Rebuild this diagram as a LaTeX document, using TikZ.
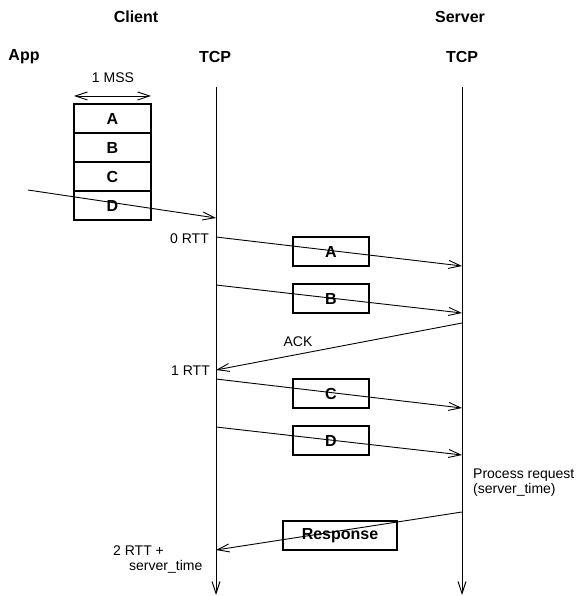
\documentclass[tikz,border=0pt]{standalone}
\usepackage{fontspec}
\setmainfont{Liberation Sans}
\usetikzlibrary{arrows.meta}
\begin{document}
\begin{tikzpicture}[x=1pt,y=-1pt,
  lbl/.style={font=\fontsize{14}{15}\selectfont, inner sep=0pt},
  hdr/.style={font=\fontsize{16}{18}\selectfont\bfseries, inner sep=0pt},
  seg/.style={draw, line width=2pt, minimum width=77pt, minimum height=29pt,
    inner sep=0pt, font=\fontsize{16}{17}\selectfont\bfseries},
  pkt/.style={draw, line width=2pt, minimum width=76pt, minimum height=29pt,
    inner sep=0pt, font=\fontsize{16}{17}\selectfont\bfseries},
  barb/.tip={Straight Barb[length=12pt,width=8pt]},
  msg/.style={line width=0.9pt, -barb},
  life/.style={line width=1pt, -barb}
]
\useasboundingbox (0,0) rectangle (576,596);

% headings
\node[hdr] (client) at (136,17) {Client};
\node[hdr] (server) at (460,17) {Server};
\node[hdr] (app) at (24,57) {App};
\node[hdr] (ctcp) at (215,57) {TCP};
\node[hdr] (stcp) at (462,57) {TCP};

% lifelines
\coordinate (ctop) at (216,87);
\coordinate (cbot) at (216,595);
\coordinate (stop) at (462,87);
\coordinate (sbot) at (462,595);
\draw[life] (ctop) -- (cbot);
\draw[life] (stop) -- (sbot);

% application buffer of four segments
\node[lbl] (mss) at (113,78) {1 MSS};
\coordinate (mssl) at (74,96);
\coordinate (mssr) at (151,96);
\draw[line width=0.9pt, barb-barb] (mssl) -- (mssr);
\node[seg] (sa) at (112.5,118.5) {A};
\node[seg] (sb) at (112.5,147.5) {B};
\node[seg] (sc) at (112.5,176.5) {C};
\node[seg] (sd) at (112.5,205.5) {D};

% write from the application into client TCP
\coordinate (w0) at (28,190);
\coordinate (w1) at (216,218);
\draw[msg] (w0) -- (w1);

% segments in flight
\node[pkt] (pa) at (331,251.5) {A};
\node[pkt] (pb) at (331,298.5) {B};
\node[pkt] (pc) at (331,393.5) {C};
\node[pkt] (pd) at (331,440.5) {D};
\node[draw, line width=2.5pt, minimum width=114pt, minimum height=29pt, inner sep=0pt,
  font=\fontsize{16}{18}\selectfont\bfseries] (resp) at (340,535.5) {Response};

\coordinate (a0) at (216,237);  \coordinate (a1) at (462,266);
\coordinate (b0) at (216,285);  \coordinate (b1) at (462,313);
\coordinate (k0) at (462,323);  \coordinate (k1) at (216,370);
\coordinate (c0) at (216,379);  \coordinate (c1) at (462,408);
\coordinate (d0) at (216,427);  \coordinate (d1) at (462,455);
\coordinate (r0) at (462,512);  \coordinate (r1) at (216,550);

\draw[msg] (a0) -- (a1);
\draw[msg] (b0) -- (b1);
\draw[msg] (k0) -- (k1);
\draw[msg] (c0) -- (c1);
\draw[msg] (d0) -- (d1);
\draw[msg] (r0) -- (r1);

% time marks and annotations
\node[lbl, anchor=east] (t0) at (209,239) {0 RTT};
\node[lbl, anchor=east] (t1) at (210,371) {1 RTT};
\node[lbl, anchor=west] (t2) at (113,551) {2 RTT +};
\node[lbl, anchor=west] (t2b) at (129,567) {server\_time};
\node[lbl] (ack) at (298,342) {ACK};
\node[lbl, anchor=north west, align=left] (proc) at (473,469)
  {Process request\\(server\_time)};
\end{tikzpicture}
\end{document}
